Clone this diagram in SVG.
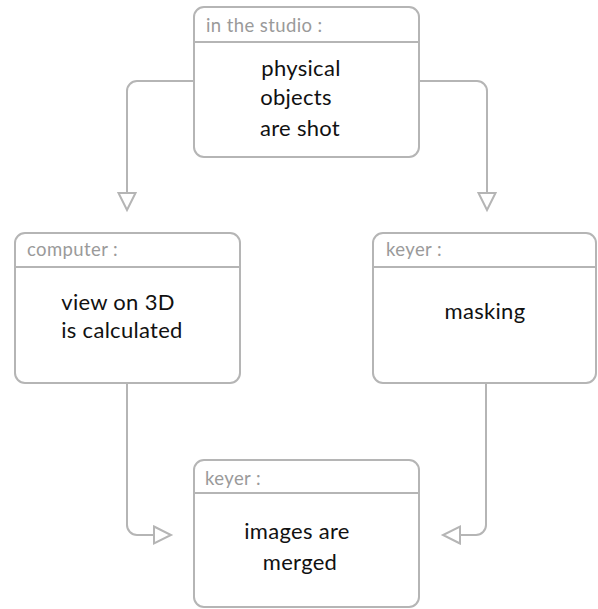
<svg xmlns="http://www.w3.org/2000/svg" width="598" height="609" viewBox="0 0 598 609">
  <style>
    .box { fill: #ffffff; stroke: #b5b5b5; stroke-width: 2; }
    .sep { stroke: #b5b5b5; stroke-width: 2; }
    .head { font-family: Lato, "Liberation Sans", sans-serif; font-size: 18.5px; fill: #9a9a9a; letter-spacing: 0.4px; }
    .body { font-family: Lato, "Liberation Sans", sans-serif; font-size: 22px; fill: #111111; text-anchor: middle; letter-spacing: 0.3px; }
    .wire { fill: none; stroke: #b5b5b5; stroke-width: 2; }
  </style>
  <defs>
    <marker id="open-tri" markerUnits="userSpaceOnUse" viewBox="-2 -11 22 22" markerWidth="22" markerHeight="22" refX="0" refY="0" orient="auto">
      <path d="M0,-8.5 L17,0 L0,8.5 Z" fill="#ffffff" stroke="#b5b5b5" stroke-width="2" stroke-linejoin="miter"/>
    </marker>
  </defs>
  <rect width="598" height="609" fill="#ffffff"/>

  <g id="connectors">
    <path class="wire" d="M194,81 H137 A10,10 0 0 0 127,91 V193" marker-end="url(#open-tri)"/>
    <path class="wire" d="M419,81 H477 A10,10 0 0 1 487,91 V193" marker-end="url(#open-tri)"/>
    <path class="wire" d="M127,383 V525 A10,10 0 0 0 137,535 H154" marker-end="url(#open-tri)"/>
    <path class="wire" d="M486,383 V525 A10,10 0 0 1 476,535 H460" marker-end="url(#open-tri)"/>
  </g>

  <g id="studio">
    <rect class="box" x="194" y="7" width="225" height="150" rx="10"/>
    <line class="sep" x1="194" y1="42" x2="419" y2="42"/>
    <text class="head" x="206" y="32">in the studio :</text>
    <text class="body" x="301" y="76">physical</text>
    <text class="body" x="296" y="105">objects</text>
    <text class="body" x="300" y="136">are shot</text>
  </g>

  <g id="computer">
    <rect class="box" x="15" y="233" width="225" height="150" rx="10"/>
    <line class="sep" x1="15" y1="267" x2="240" y2="267"/>
    <text class="head" x="27" y="256">computer :</text>
    <text class="body" x="118" y="310">view on 3D</text>
    <text class="body" x="122" y="338">is calculated</text>
  </g>

  <g id="keyer-mask">
    <rect class="box" x="373" y="233" width="223" height="150" rx="10"/>
    <line class="sep" x1="373" y1="267" x2="596" y2="267"/>
    <text class="head" x="386" y="256">keyer :</text>
    <text class="body" x="485" y="319">masking</text>
  </g>

  <g id="keyer-merge">
    <rect class="box" x="194" y="460" width="225" height="147" rx="10"/>
    <line class="sep" x1="194" y1="493" x2="419" y2="493"/>
    <text class="head" x="205" y="485">keyer :</text>
    <text class="body" x="297" y="539">images are</text>
    <text class="body" x="300" y="570">merged</text>
  </g>
</svg>
